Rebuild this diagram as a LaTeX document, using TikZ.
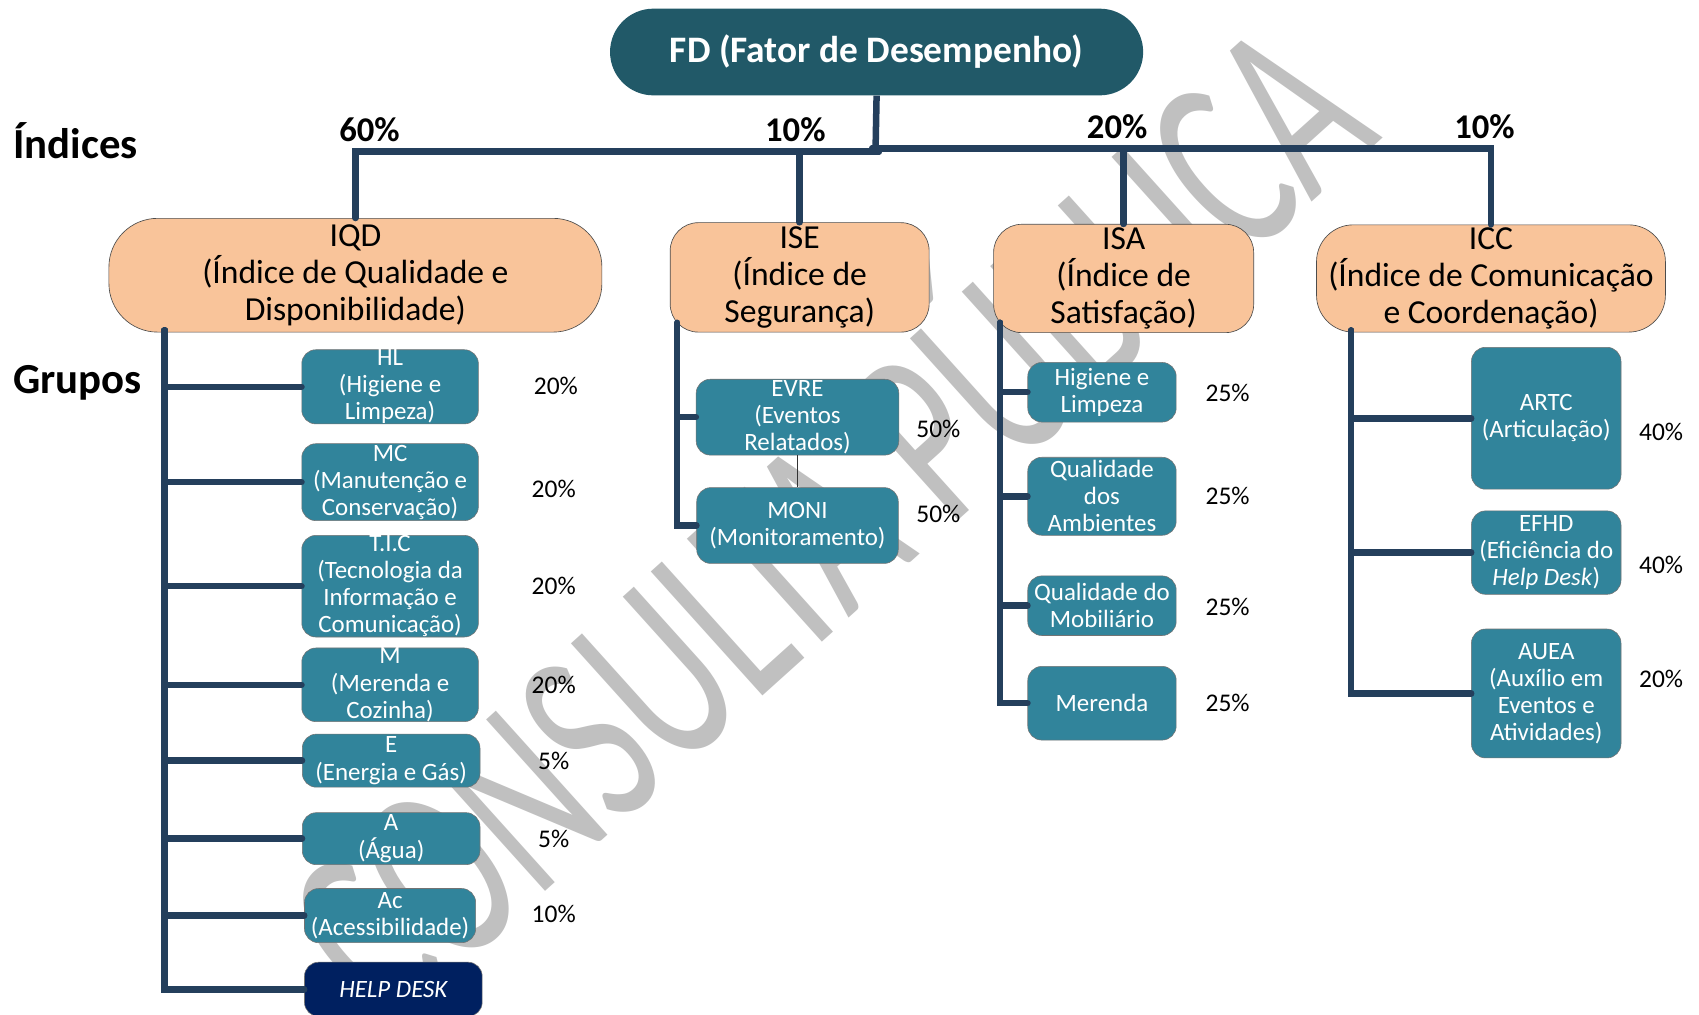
\documentclass[tikz,border=0pt]{standalone}
\usepackage{fontspec}
\usepackage{graphicx}
\setmainfont{Carlito}
\definecolor{fdcol}{HTML}{215968}
\definecolor{conncol}{HTML}{243F5C}
\definecolor{peach}{HTML}{F9C49A}
\definecolor{tealbox}{HTML}{31849B}
\definecolor{navybox}{HTML}{002060}
\definecolor{wmcol}{HTML}{C0C0C0}
\newcommand\gbx[6]{\node[grp,minimum width=#4pt,minimum height=#5pt] (#1) at (#2,#3) {#6};}
\newcommand\pctl[4]{\node[pct] (#1) at (#2,#3) {#4};}
\begin{document}
\begin{tikzpicture}[x=1pt,y=-1pt,
  conn/.style={draw=conncol,line width=6pt,line cap=round,line join=miter},
  idxbox/.style={draw=black!70,line width=0.6pt,fill=peach,align=center,inner sep=0pt,
     font=\fontsize{31}{34}\selectfont,text=black},
  grp/.style={draw=black!55,line width=0.5pt,fill=tealbox,rounded corners=13pt,align=center,
     inner sep=0pt,font=\fontsize{23}{25}\selectfont,text=white},
  pct/.style={inner sep=0pt,font=\fontsize{23.5}{25}\selectfont,text=black},
  toppct/.style={inner sep=0pt,font=\bfseries\fontsize{32}{34}\selectfont,text=black},
  sidelab/.style={inner sep=0pt,anchor=west,font=\bfseries\fontsize{39.5}{42}\selectfont,text=black}]
\useasboundingbox (0,0) rectangle (1568,936);
\fill[white] (0,0) rectangle (1568,936);
% watermark
\node[text=wmcol,font=\fontsize{240}{240}\selectfont,rotate=42,anchor=base,inner sep=0pt] (wmk)
  at (818,540) {\scalebox{0.645}[1]{CONSULTA PÚBLICA}};
% top
\node[fill=fdcol,rounded corners=40pt,minimum width=492pt,minimum height=80pt,inner sep=0pt,
  text=white,font=\bfseries\fontsize{34.5}{36}\selectfont] (FD) at (809,48) {FD (Fator de Desempenho)};
\node[sidelab] (ind) at (12,130) {Índices};
\node[sidelab] (grup) at (12,353) {Grupos};
\node[toppct] (p60) at (341,120) {60\%};
\node[toppct] (p10a) at (734,120) {10\%};
\node[toppct] (p20) at (1031,117) {20\%};
\node[toppct] (p10b) at (1370,117) {10\%};
% index boxes
\node[idxbox,rounded corners=45pt,minimum width=455pt,minimum height=105pt] (IQD) at (328,254)
  {IQD\\(Índice de Qualidade e\\Disponibilidade)};
\node[idxbox,rounded corners=26pt,minimum width=239pt,minimum height=101pt] (ISE) at (738,256)
  {ISE\\(Índice de\\Segurança)};
\node[idxbox,rounded corners=26pt,minimum width=240pt,minimum height=100pt] (ISA) at (1037,257)
  {ISA\\(Índice de\\Satisfação)};
\node[idxbox,rounded corners=34pt,minimum width=322pt,minimum height=99pt] (ICC) at (1376,257)
  {ICC\\(Índice de Comunicação\\e Coordenação)};
% groups IQD
\gbx{HL}{360}{357}{163}{67}{HL\\(Higiene e\\Limpeza)}
\gbx{MC}{360}{445}{163}{71}{MC\\(Manutenção e\\Conservação)}
\gbx{TIC}{360}{541}{163}{93}{T.I.C\\(Tecnologia da\\Informação e\\Comunicação)}
\gbx{MER}{360}{632}{163}{66}{M\\(Merenda e\\Cozinha)}
\gbx{EG}{361}{702}{164}{49}{E\\(Energia e Gás)}
\gbx{AG}{361}{774}{164}{48}{A\\(Água)}
\gbx{AC}{360}{845}{158}{50}{Ac\\(Acessibilidade)}
\node[grp,fill=navybox,minimum width=164pt,minimum height=50pt] (HD) at (363,913) {\itshape HELP DESK};
% groups ISE
\gbx{EVRE}{736}{385}{187}{70}{EVRE\\(Eventos\\Relatados)}
\gbx{MONI}{736}{485}{186}{70}{MONI\\(Monitoramento)}
% groups ISA
\gbx{SHL}{1017}{362}{137}{55}{Higiene e\\Limpeza}
\gbx{SQA}{1017}{458}{137}{72}{Qualidade\\dos\\Ambientes}
\gbx{SQM}{1017}{559}{137}{55}{Qualidade do\\Mobiliário}
\gbx{SME}{1017}{649}{137}{68}{Merenda}
% groups ICC
\gbx{ARTC}{1427}{386}{138}{131}{ARTC\\(Articulação)}
\gbx{EFHD}{1427}{510}{138}{77}{EFHD\\(Eficiência do\\\textit{Help Desk})}
\gbx{AUEA}{1427}{640}{138}{119}{AUEA\\(Auxílio em\\Eventos e\\Atividades)}
% percentages
\pctl{q1}{513}{356}{20\%}
\pctl{q2}{511}{451}{20\%}
\pctl{q3}{511}{541}{20\%}
\pctl{q4}{511}{632}{20\%}
\pctl{q5}{511}{702}{5\%}
\pctl{q6}{511}{774}{5\%}
\pctl{q7}{511}{843}{10\%}
\pctl{e1}{866}{396}{50\%}
\pctl{e2}{866}{474}{50\%}
\pctl{s1}{1133}{363}{25\%}
\pctl{s2}{1133}{458}{25\%}
\pctl{s3}{1133}{560}{25\%}
\pctl{s4}{1133}{649}{25\%}
\pctl{c1}{1533}{399}{40\%}
\pctl{c2}{1533}{521}{40\%}
\pctl{c3}{1533}{627}{20\%}
% connectors
\coordinate (hubL) at (811,140);
\coordinate (hubR) at (805,137);
\coordinate (qtop) at (152,305);
\coordinate (etop) at (625,298);
\coordinate (stop) at (923,298);
\coordinate (ctop) at (1247,305);
\draw[conn,line cap=butt] (FD.south) -- (808,140);
\draw[conn] (hubL) -| (IQD.north);
\draw[conn] (hubL) -| (ISE.north);
\draw[conn] (hubR) -| (ISA.north);
\draw[conn] (hubR) -| (ICC.north);
\foreach \b in {HL,MC,TIC,MER,EG,AG,AC,HD} {\draw[conn] (qtop) |- (\b.west);}
\foreach \b in {EVRE,MONI} {\draw[conn] (etop) |- (\b.west);}
\foreach \b in {SHL,SQA,SQM,SME} {\draw[conn] (stop) |- (\b.west);}
\foreach \b in {ARTC,EFHD,AUEA} {\draw[conn] (ctop) |- (\b.west);}
\draw[black!80,line width=0.8pt] (EVRE.south) -- (MONI.north);
\end{tikzpicture}
\end{document}
